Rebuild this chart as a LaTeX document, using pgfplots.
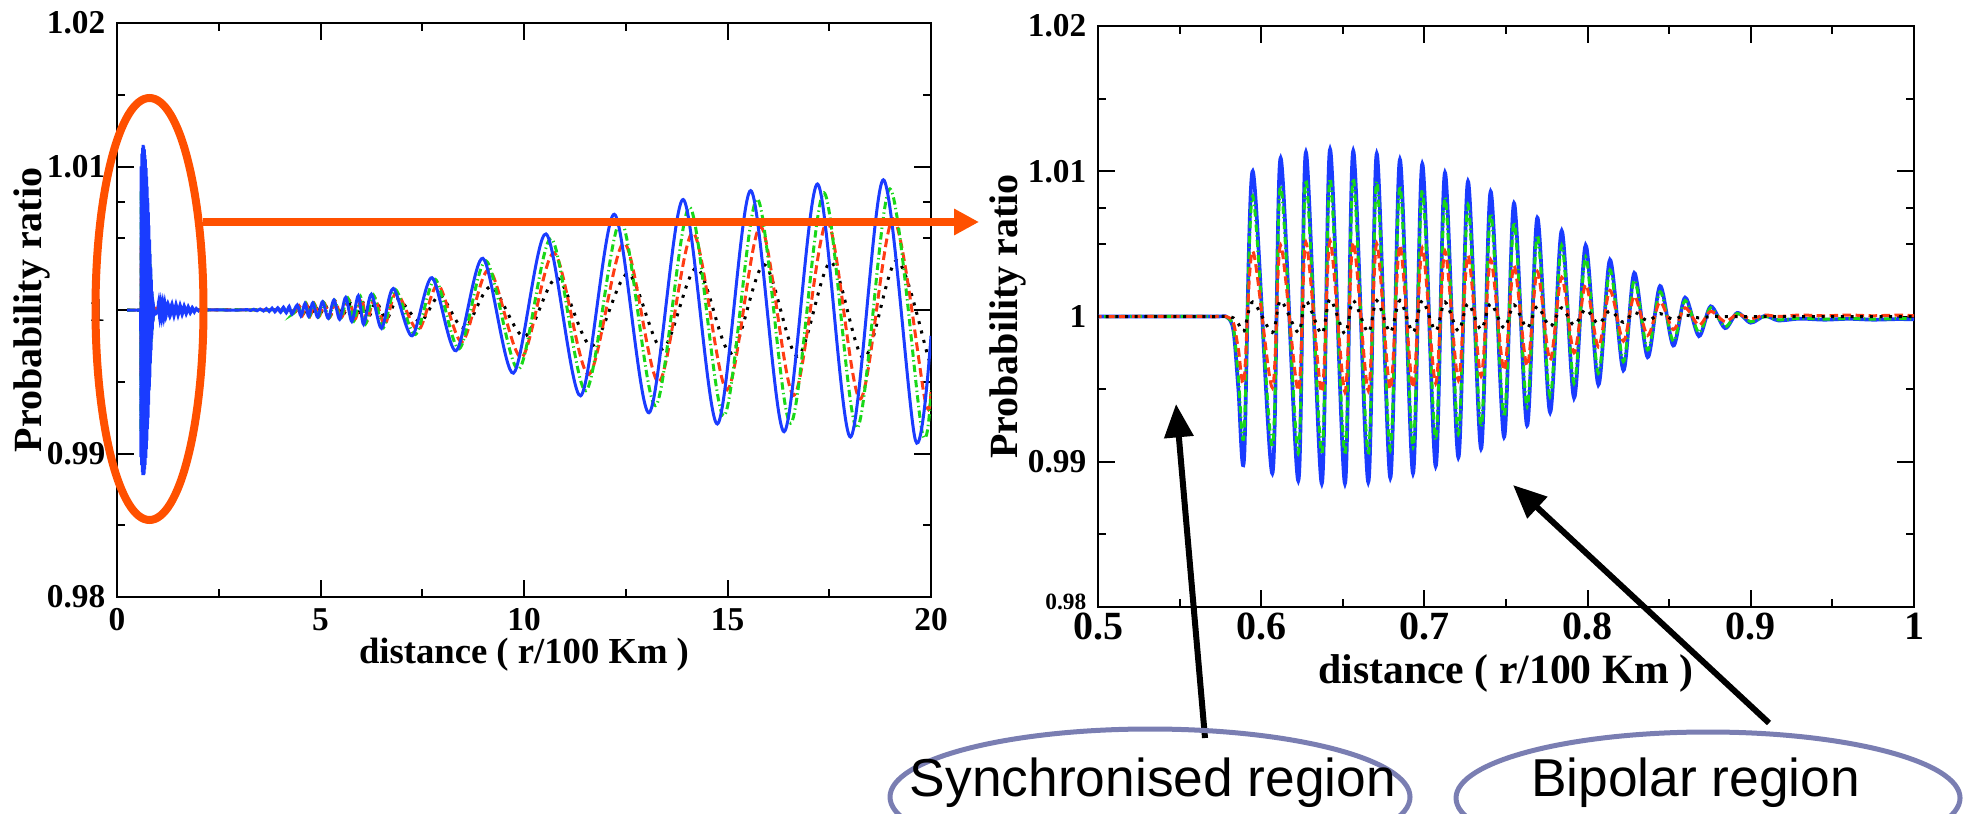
\documentclass[border=0pt]{standalone}
\usepackage{fontspec}
\setmainfont{Liberation Serif}
\newfontfamily\annfont{Liberation Sans}
\usepackage{pgfplots}
\pgfplotsset{compat=1.18}
\usepackage{pgfplotstable}
\usetikzlibrary{arrows.meta}

\definecolor{gblue}{HTML}{1A3CFF}
\definecolor{ggreen}{HTML}{18D818}
\definecolor{gred}{HTML}{FF3C14}
\definecolor{orng}{HTML}{FF5000}
\definecolor{ellip}{HTML}{7A7EB2}

% zoomed region 0.5-1, same x for all four sets
\pgfplotstableread{
x b g r k
0.2500 1.00000 1.00000 1.00000 1.00000
0.5000 1.00000 1.00000 1.00000 1.00000
0.5700 1.00000 1.00000 1.00000 1.00000
0.5790 0.99995 0.99996 0.99998 1.00000
0.5830 0.99900 0.99917 0.99955 0.99990
0.5860 0.99500 0.99585 0.99775 0.99950
0.5895 0.99020 0.99190 0.99560 0.99900
0.5948 1.01000 1.00830 1.00450 1.00100
0.6068 0.98920 0.99100 0.99510 0.99890
0.6119 1.01090 1.00900 1.00490 1.00110
0.6227 0.98870 0.99060 0.99490 0.99890
0.6274 1.01130 1.00940 1.00510 1.00110
0.6371 0.98850 0.99050 0.99480 0.99880
0.6422 1.01150 1.00950 1.00520 1.00120
0.6513 0.98850 0.99050 0.99480 0.99880
0.6564 1.01140 1.00950 1.00510 1.00110
0.6656 0.98860 0.99050 0.99490 0.99890
0.6708 1.01120 1.00930 1.00500 1.00110
0.6791 0.98890 0.99080 0.99500 0.99890
0.6850 1.01080 1.00900 1.00490 1.00110
0.6930 0.98920 0.99100 0.99510 0.99890
0.6987 1.01050 1.00870 1.00470 1.00110
0.7069 0.98970 0.99150 0.99540 0.99900
0.7126 1.00990 1.00820 1.00450 1.00100
0.7208 0.99030 0.99190 0.99560 0.99900
0.7267 1.00930 1.00770 1.00420 1.00090
0.7347 0.99090 0.99240 0.99590 0.99910
0.7406 1.00860 1.00710 1.00390 1.00090
0.7488 0.99170 0.99310 0.99630 0.99920
0.7549 1.00780 1.00650 1.00350 1.00080
0.7629 0.99250 0.99380 0.99660 0.99920
0.7692 1.00680 1.00560 1.00310 1.00070
0.7770 0.99340 0.99450 0.99700 0.99930
0.7841 1.00590 1.00490 1.00270 1.00060
0.7917 0.99440 0.99540 0.99750 0.99940
0.7988 1.00490 1.00410 1.00220 1.00050
0.8066 0.99530 0.99610 0.99790 0.99950
0.8137 1.00390 1.00320 1.00180 1.00040
0.8219 0.99630 0.99690 0.99830 0.99960
0.8286 1.00300 1.00250 1.00140 1.00030
0.8368 0.99720 0.99770 0.99870 0.99970
0.8444 1.00210 1.00170 1.00100 1.00020
0.8525 0.99800 0.99830 0.99910 0.99980
0.8597 1.00130 1.00110 1.00060 1.00010
0.8682 0.99865 0.99890 0.99940 0.99990
0.8754 1.00070 1.00060 1.00035 1.00000
0.8842 0.99920 0.99930 0.99965 1.00000
0.8917 1.00025 1.00020 1.00015 1.00000
0.8999 0.99957 0.99964 0.99985 1.00000
0.9087 1.00005 1.00000 1.00010 1.00000
0.9168 0.99973 0.99977 1.00000 1.00000
0.9300 0.99985 0.99988 1.00010 1.00000
0.9450 0.99978 0.99982 1.00005 1.00000
0.9600 0.99984 0.99986 1.00010 1.00000
0.9750 0.99978 0.99982 1.00005 1.00000
0.9900 0.99982 0.99985 1.00010 1.00000
1.0000 0.99980 0.99984 1.00005 1.00000
}\zoomdata

% long range, one table per set
\pgfplotstableread{
x y
1.000 0.99980
1.025 1.00060
1.050 0.99940
1.075 1.00058
1.100 0.99942
1.125 1.00055
1.150 0.99945
1.175 1.00052
1.200 0.99950
1.250 1.00048
1.300 0.99953
1.350 1.00044
1.400 0.99958
1.450 1.00040
1.500 0.99962
1.550 1.00035
1.600 0.99967
1.650 1.00030
1.700 0.99972
1.750 1.00024
1.800 0.99978
1.850 1.00018
1.900 0.99985
1.950 1.00010
2.000 0.99995
2.100 1.00000
3.000 1.00000
3.200 1.00003
3.280 0.99997
3.360 1.00005
3.440 0.99995
3.520 1.00007
3.600 0.99993
3.670 1.00010
3.740 0.99990
3.810 1.00013
3.880 0.99987
3.950 1.00016
4.020 0.99984
4.090 1.00020
4.160 0.99980
4.230 1.00025
4.300 0.99972
4.430 1.00035
4.520 0.99958
4.620 1.00046
4.710 0.99955
4.810 1.00050
4.930 0.99950
5.050 1.00058
5.190 0.99942
5.330 1.00070
5.470 0.99935
5.620 1.00088
5.770 0.99920
5.930 1.00100
6.060 0.99900
6.250 1.00110
6.500 0.99872
6.790 1.00150
7.250 0.99820
7.740 1.00225
8.330 0.99716
8.990 1.00360
9.740 0.99560
10.540 1.00530
11.390 0.99402
12.220 1.00667
13.070 0.99284
13.910 1.00770
14.750 0.99206
15.570 1.00832
16.390 0.99152
17.210 1.00878
18.020 0.99115
18.830 1.00907
19.620 0.99089
20.000 0.99820
}\farblue

\pgfplotstableread{
x y
1.000 1.00000
4.100 1.00000
4.320 0.99973
4.450 1.00033
4.540 0.99960
4.640 1.00044
4.730 0.99957
4.830 1.00048
4.950 0.99952
5.070 1.00055
5.210 0.99945
5.350 1.00066
5.490 0.99938
5.670 1.00084
5.820 0.99924
5.980 1.00095
6.110 0.99905
6.300 1.00105
6.550 0.99878
6.840 1.00143
7.330 0.99829
7.820 1.00214
8.410 0.99730
9.070 1.00342
9.870 0.99586
10.670 1.00498
11.520 0.99438
12.380 1.00620
13.230 0.99334
14.070 1.00716
14.910 0.99262
15.730 1.00774
16.550 0.99211
17.370 1.00817
18.180 0.99177
18.990 1.00844
19.780 0.99153
20.000 0.99440
}\fargreen

\pgfplotstableread{
x y
1.000 1.00000
4.100 1.00000
4.340 0.99976
4.470 1.00030
4.560 0.99964
4.660 1.00039
4.750 0.99962
4.850 1.00043
4.970 0.99957
5.090 1.00049
5.230 0.99951
5.370 1.00060
5.510 0.99945
5.700 1.00070
5.850 0.99936
6.010 1.00080
6.140 0.99920
6.330 1.00088
6.580 0.99898
6.870 1.00120
7.400 0.99860
7.890 1.00175
8.480 0.99778
9.140 1.00281
9.940 0.99670
10.740 1.00398
11.590 0.99551
12.460 1.00467
13.310 0.99499
14.150 1.00539
14.990 0.99444
15.810 1.00582
16.630 0.99406
17.450 1.00615
18.260 0.99380
19.070 1.00635
19.860 0.99362
20.000 0.99450
}\farred

\pgfplotstableread{
x y
1.000 1.00000
4.100 1.00000
4.360 0.99983
4.490 1.00021
4.580 0.99975
4.680 1.00028
4.770 0.99973
4.870 1.00030
4.990 0.99970
5.110 1.00035
5.250 0.99965
5.390 1.00042
5.530 0.99961
5.740 1.00044
5.890 0.99960
6.050 1.00050
6.180 0.99950
6.370 1.00055
6.620 0.99936
6.910 1.00075
7.450 0.99919
7.940 1.00101
8.530 0.99872
9.190 1.00162
10.010 0.99815
10.810 1.00223
11.660 0.99749
12.550 1.00253
13.400 0.99728
14.240 1.00293
15.080 0.99698
15.900 1.00316
16.720 0.99678
17.540 1.00334
18.350 0.99664
19.160 1.00345
19.950 0.99654
20.000 0.99656
}\farblack

\pgfplotsset{
  grace/.style={
    scale only axis, anchor=south west,
    axis line style={line width=0.75pt},
    every tick/.style={black, line width=0.6pt},
    major tick length=5pt, minor tick length=2.5pt,
    tick align=inside,
    ymin=0.98, ymax=1.02,
    ytick={0.98,0.99,1,1.01,1.02},
    minor ytick={0.985,0.995,1.005,1.0075,1.015},
    minor x tick num=1,
    yticklabel style={font=\fontsize{10}{12}\selectfont\bfseries},
    ylabel={Probability ratio},
    every axis y label/.style={rotate=90, anchor=center,
      font=\fontsize{12}{14}\selectfont\bfseries},
  },
  sblue/.style={gblue, line width=0.9pt, smooth},
  sgreen/.style={ggreen, line width=0.9pt, smooth,
    dash pattern=on 2.2pt off 1pt on 0.4pt off 1pt},
  sred/.style={gred, line width=0.9pt, smooth,
    dash pattern=on 2.6pt off 1.3pt},
  sblack/.style={black, line width=0.9pt, smooth,
    dash pattern=on 0.9pt off 2pt},
}

\begin{document}
\begin{tikzpicture}

% left panel
\begin{axis}[grace, at={(35.1pt,64.8pt)}, width=244.2pt, height=172.2pt,
  xmin=0, xmax=20,
  xtick={0,5,10,15,20}, xticklabels={0,5,10,15,20},
  yticklabels={0.98,0.99,1,1.01,1.02},
  xticklabel style={font=\fontsize{10}{12}\selectfont\bfseries},
  xlabel={distance ( r/100 Km )},
  every axis x label/.style={at={(axis description cs:0.5,-0.100)}, anchor=center,
    inner sep=1pt, font=\fontsize{11}{13}\selectfont\bfseries},
  every axis y label/.append style={at={(axis description cs:-0.104,0.5)}},
]
\addplot[sblack] table[x=x,y=k]{\zoomdata};
\addplot[sblack] table[x=x,y=y]{\farblack};
\addplot[sred] table[x=x,y=r]{\zoomdata};
\addplot[sred] table[x=x,y=y]{\farred};
\addplot[sgreen] table[x=x,y=g]{\zoomdata};
\addplot[sgreen] table[x=x,y=y]{\fargreen};
\addplot[sblue] table[x=x,y=b]{\zoomdata};
\addplot[sblue] table[x=x,y=y]{\farblue};
\end{axis}

% right panel
\begin{axis}[grace, at={(329.4pt,61.8pt)}, width=244.8pt, height=174.3pt,
  xmin=0.5, xmax=1,
  xtick={0.5,0.6,0.7,0.8,0.9,1}, xticklabels={0.5,0.6,0.7,0.8,0.9,1},
  yticklabels={{\fontsize{7}{8}\selectfont\raisebox{3pt}{0.98}\hspace{3pt}},0.99,1,1.01,1.02},
  xticklabel style={font=\fontsize{12}{14}\selectfont\bfseries, inner sep=1.5pt},
  xlabel={distance ( r/100 Km )},
  every axis x label/.style={at={(axis description cs:0.5,-0.114)}, anchor=center,
    inner sep=1pt, font=\fontsize{12.5}{14}\selectfont\bfseries},
  every axis y label/.append style={at={(axis description cs:-0.110,0.5)}},
]
\addplot[sblue, line width=1.1pt] table[x=x,y=b]{\zoomdata};
\addplot[sgreen] table[x=x,y=g]{\zoomdata};
\addplot[sred] table[x=x,y=r]{\zoomdata};
\addplot[sblack] table[x=x,y=k]{\zoomdata};
\end{axis}

% annotations
\draw[orng, line width=2.4pt] (44.85pt,151.2pt) ellipse [x radius=16.2pt, y radius=63.3pt];
\draw[orng, line width=2.4pt, -{Triangle[length=7.5pt,width=7.5pt]}]
  (60.9pt,177.3pt) -- (293.7pt,177.3pt);
\draw[black, line width=1.8pt, -{Triangle[length=10pt,width=8.5pt]}]
  (361.5pt,22.5pt) -- (352.8pt,122.7pt);
\draw[black, line width=1.8pt, -{Triangle[length=10pt,width=8.5pt]}]
  (530.7pt,27pt) -- (453.9pt,98.4pt);
\draw[ellip, line width=1.5pt] (345pt,4.8pt) ellipse [x radius=78pt, y radius=20.4pt];
\draw[ellip, line width=1.5pt] (512.4pt,4.5pt) ellipse [x radius=75.6pt, y radius=19.8pt];
\node[anchor=base, inner sep=0pt, font=\annfont\fontsize{16}{18}\selectfont]
  at (345.9pt,5pt) {Synchronised region};
\node[anchor=base, inner sep=0pt, font=\annfont\fontsize{16}{18}\selectfont]
  at (508.7pt,5pt) {Bipolar region};

\pgfresetboundingbox
\path[use as bounding box] (0,0) rectangle (590.4pt,243.9pt);
\end{tikzpicture}
\end{document}
